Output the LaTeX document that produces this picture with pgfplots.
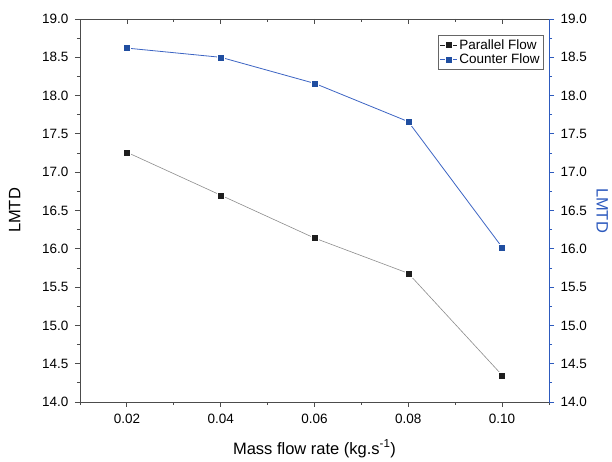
\documentclass[border=0pt]{standalone}
\usepackage{pgfplots}
\pgfplotsset{compat=1.18}
\usepackage{fontspec}
\setmainfont{Liberation Sans}
\definecolor{bmark}{RGB}{32,78,160}
\definecolor{bline}{RGB}{60,100,195}
\definecolor{baxis}{RGB}{45,90,190}
\definecolor{kmark}{RGB}{30,30,30}
\definecolor{kline}{RGB}{140,140,140}
\begin{document}
\begin{tikzpicture}
\pgfplotsset{
  every axis/.append style={
    scale only axis, width=469bp, height=383bp,
    xmin=0.01, xmax=0.11, ymin=14, ymax=19,
    /pgf/number format/assume math mode=true,
    tick label style={font=\fontsize{13.5bp}{16bp}\selectfont},
    label style={font=\fontsize{16.5bp}{19bp}\selectfont},
    major tick length=5bp, minor tick length=3bp,
  },
}
\begin{axis}[
  name=A,
  axis x line*=bottom, axis y line*=left,
  axis line style={-, draw=black!70},
  tick align=outside,
  xtick={0.02,0.04,0.06,0.08,0.10},
  xticklabels={0.02,0.04,0.06,0.08,0.10},
  xticklabel style={yshift=-4bp},
  minor xtick={0.01,0.03,0.05,0.07,0.09,0.11},
  ytick={14,14.5,...,19},
  yticklabel style={xshift=-3bp, /pgf/number format/.cd, fixed, fixed zerofill, precision=1},
  minor ytick={14.25,14.75,...,18.75},
  tick style={draw=black!70, line width=0.8bp},
  xlabel={Mass flow rate (kg.s\textsuperscript{-1})},
  ylabel={LMTD},
  xlabel style={yshift=-9bp},
  ylabel style={yshift=15bp},
  legend style={at={(0.989,0.958)}, anchor=north east, draw=black!60,
    font=\fontsize{13.5bp}{15bp}\selectfont, inner sep=2bp, row sep=-1bp,
    cells={anchor=west}},
  legend cell align=left,
]
\addlegendimage{color=kmark, line width=0.6bp, mark=square*, mark size=3.5bp,
  mark options={draw=white, line width=0.3bp, fill=kmark}}
\addlegendentry{Parallel Flow}
\addlegendimage{color=bline, line width=0.6bp, mark=square*, mark size=3.5bp,
  mark options={draw=white, line width=0.3bp, fill=bmark}}
\addlegendentry{Counter Flow}
\addplot[color=kline, line width=0.6bp, mark=square*, mark size=3.5bp,
  mark options={draw=white, line width=0.3bp, fill=kmark}, forget plot]
  coordinates {(0.02,17.26) (0.04,16.70) (0.06,16.14) (0.08,15.68) (0.10,14.35)};
\addplot[color=bline, line width=0.8bp, mark=square*, mark size=3.5bp,
  mark options={draw=white, line width=0.3bp, fill=bmark}, forget plot]
  coordinates {(0.02,18.62) (0.04,18.50) (0.06,18.16) (0.08,17.66) (0.10,16.02)};
\end{axis}
\begin{axis}[
  axis x line*=top, hide y axis,
  axis line style={-, draw=black!70},
  tick align=inside,
  xtick={0.02,0.04,0.06,0.08,0.10},
  xticklabels={},
  minor xtick={0.03,0.05,0.07,0.09},
  tick style={draw=black!70, line width=0.8bp},
]
\addplot[draw=none] coordinates {(0.02,15)};
\end{axis}
\begin{axis}[
  hide x axis,
  axis y line*=right,
  axis line style={-, draw=baxis, line width=0.9bp},
  tick align=outside,
  ytick={14,14.5,...,19},
  yticklabel style={xshift=3bp, /pgf/number format/.cd, fixed, fixed zerofill, precision=1},
  minor ytick={14.25,14.75,...,18.75},
  tick style={draw=baxis, line width=0.8bp},
  ylabel={LMTD},
  ylabel style={color=baxis, rotate=180, yshift=3bp},
]
\addplot[draw=none] coordinates {(0.02,15)};
\end{axis}
\path ([shift={(-80bp,-60bp)}]A.south west) rectangle ([shift={(63bp,19bp)}]A.north east);
\end{tikzpicture}
\end{document}
